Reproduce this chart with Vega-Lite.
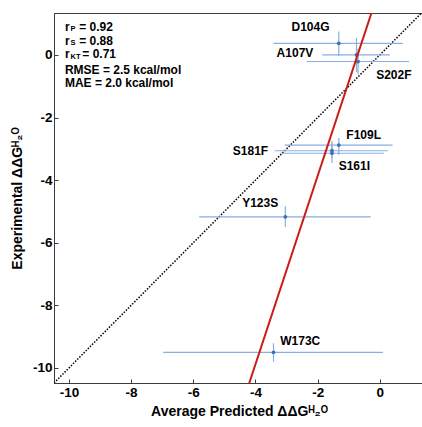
{
  "$schema": "https://vega.github.io/schema/vega-lite/v6.json",
  "width": 370,
  "height": 370,
  "autosize": {"type": "none"},
  "padding": {"left": 54, "top": 13, "right": 0, "bottom": 44},
  "background": "white",
  "config": {
    "view": {"stroke": "#3c3c3c", "strokeWidth": 1},
    "font": "Liberation Sans",
    "axis": {
      "domainColor": "#3c3c3c",
      "tickColor": "#3c3c3c",
      "tickSize": -4,
      "labelFont": "Liberation Sans",
      "labelFontSize": 13.5,
      "labelFontWeight": "bold",
      "labelColor": "black",
      "titleFont": "Liberation Sans",
      "titleFontSize": 14,
      "titleFontWeight": "bold",
      "titleColor": "black",
      "grid": false,
      "labelExpr": "datum.value < 0 ? '-' + abs(datum.value) : '' + datum.value"
    }
  },
  "datasets": {
    "pts": [
      {"name": "D104G", "x": -1.32, "y": 0.37, "xlo": -3.42, "xhi": 0.74, "ylo": -0.03, "yhi": 0.75, "lx": -2.23, "ly": 0.89},
      {"name": "A107V", "x": -0.75, "y": 0.0, "xlo": -1.85, "xhi": 0.32, "ylo": -0.55, "yhi": 0.54, "lx": -2.73, "ly": 0.05},
      {"name": "S202F", "x": -0.7, "y": -0.21, "xlo": -2.35, "xhi": 0.94, "ylo": -0.62, "yhi": 0.2, "lx": 0.45, "ly": -0.64},
      {"name": "F109L", "x": -1.32, "y": -2.88, "xlo": -3.06, "xhi": 0.41, "ylo": -3.2, "yhi": -2.65, "lx": -0.52, "ly": -2.56},
      {"name": "S181F", "x": -1.54, "y": -3.06, "xlo": -3.39, "xhi": 0.26, "ylo": -3.3, "yhi": -2.85, "lx": -4.16, "ly": -3.07},
      {"name": "S161I", "x": -1.54, "y": -3.14, "xlo": -3.2, "xhi": 0.13, "ylo": -3.45, "yhi": -2.75, "lx": -0.82, "ly": -3.54},
      {"name": "Y123S", "x": -3.04, "y": -5.17, "xlo": -5.81, "xhi": -0.29, "ylo": -5.5, "yhi": -4.83, "lx": -3.85, "ly": -4.74},
      {"name": "W173C", "x": -3.42, "y": -9.5, "xlo": -6.97, "xhi": 0.1, "ylo": -9.8, "yhi": -9.21, "lx": -2.56, "ly": -9.13}
    ],
    "fit": [
      {"x": -4.2, "y": -10.48},
      {"x": -0.27, "y": 1.34}
    ],
    "diag": [
      {"x": -10.48, "y": -10.48},
      {"x": 1.34, "y": 1.34}
    ],
    "stats": [
      {"r": "r", "sub": "P", "val": "= 0.92", "x": -10.13, "xs": -9.95, "xv": -9.67, "y": 0.9},
      {"r": "r", "sub": "S", "val": "= 0.88", "x": -10.13, "xs": -9.95, "xv": -9.67, "y": 0.46},
      {"r": "r", "sub": "KT", "val": "= 0.71", "x": -10.13, "xs": -9.95, "xv": -9.57, "y": 0.02}
    ],
    "stats2": [
      {"t": "RMSE = 2.5 kcal/mol", "x": -10.13, "y": -0.48},
      {"t": "MAE = 2.0 kcal/mol", "x": -10.13, "y": -0.9}
    ]
  },
  "layer": [
    {
      "data": {"name": "diag"},
      "mark": {"type": "line", "color": "black", "strokeWidth": 1.5, "strokeDash": [1.5, 1.5], "clip": true},
      "encoding": {
        "x": {"field": "x", "type": "quantitative", "scale": {"domain": [-10.48, 1.42], "nice": false, "zero": false}, "axis": {"values": [-10, -8, -6, -4, -2, 0], "title": "Average Predicted ΔΔGᴴ₂ᴼ", "labelPadding": 6, "titlePadding": 6}},
        "y": {"field": "y", "type": "quantitative", "scale": {"domain": [-10.48, 1.34], "nice": false, "zero": false}, "axis": {"values": [-10, -8, -6, -4, -2, 0], "title": "Experimental ΔΔGᴴ₂ᴼ", "labelPadding": 6, "titlePadding": 8}}
      }
    },
    {
      "data": {"name": "pts"},
      "mark": {"type": "rule", "color": "#8aaee0", "strokeWidth": 1.2},
      "encoding": {
        "x": {"field": "xlo", "type": "quantitative"},
        "x2": {"field": "xhi"},
        "y": {"field": "y", "type": "quantitative"}
      }
    },
    {
      "data": {"name": "pts"},
      "mark": {"type": "rule", "color": "#8aaee0", "strokeWidth": 1.2},
      "encoding": {
        "x": {"field": "x", "type": "quantitative"},
        "y": {"field": "ylo", "type": "quantitative"},
        "y2": {"field": "yhi"}
      }
    },
    {
      "data": {"name": "pts"},
      "mark": {"type": "point", "filled": true, "color": "#3b6fb6", "size": 14, "opacity": 1},
      "encoding": {
        "x": {"field": "x", "type": "quantitative"},
        "y": {"field": "y", "type": "quantitative"}
      }
    },
    {
      "data": {"name": "fit"},
      "mark": {"type": "line", "color": "#cc1a14", "strokeWidth": 2, "clip": true},
      "encoding": {
        "x": {"field": "x", "type": "quantitative"},
        "y": {"field": "y", "type": "quantitative"}
      }
    },
    {
      "data": {"name": "pts"},
      "mark": {"type": "text", "font": "Liberation Sans", "fontWeight": "bold", "fontSize": 12, "color": "black", "align": "center", "baseline": "middle"},
      "encoding": {
        "x": {"field": "lx", "type": "quantitative"},
        "y": {"field": "ly", "type": "quantitative"},
        "text": {"field": "name"}
      }
    },
    {
      "data": {"name": "stats"},
      "mark": {"type": "text", "font": "Liberation Sans", "fontWeight": "bold", "fontSize": 12, "color": "black", "align": "left", "baseline": "middle"},
      "encoding": {
        "x": {"field": "x", "type": "quantitative"},
        "y": {"field": "y", "type": "quantitative"},
        "text": {"field": "r"}
      }
    },
    {
      "data": {"name": "stats"},
      "mark": {"type": "text", "font": "Liberation Sans", "fontWeight": "bold", "fontSize": 7.5, "color": "black", "align": "left", "baseline": "middle", "dy": 2.5},
      "encoding": {
        "x": {"field": "xs", "type": "quantitative"},
        "y": {"field": "y", "type": "quantitative"},
        "text": {"field": "sub"}
      }
    },
    {
      "data": {"name": "stats"},
      "mark": {"type": "text", "font": "Liberation Sans", "fontWeight": "bold", "fontSize": 12, "color": "black", "align": "left", "baseline": "middle"},
      "encoding": {
        "x": {"field": "xv", "type": "quantitative"},
        "y": {"field": "y", "type": "quantitative"},
        "text": {"field": "val"}
      }
    },
    {
      "data": {"name": "stats2"},
      "mark": {"type": "text", "font": "Liberation Sans", "fontWeight": "bold", "fontSize": 12, "color": "black", "align": "left", "baseline": "middle"},
      "encoding": {
        "x": {"field": "x", "type": "quantitative"},
        "y": {"field": "y", "type": "quantitative"},
        "text": {"field": "t"}
      }
    }
  ]
}
